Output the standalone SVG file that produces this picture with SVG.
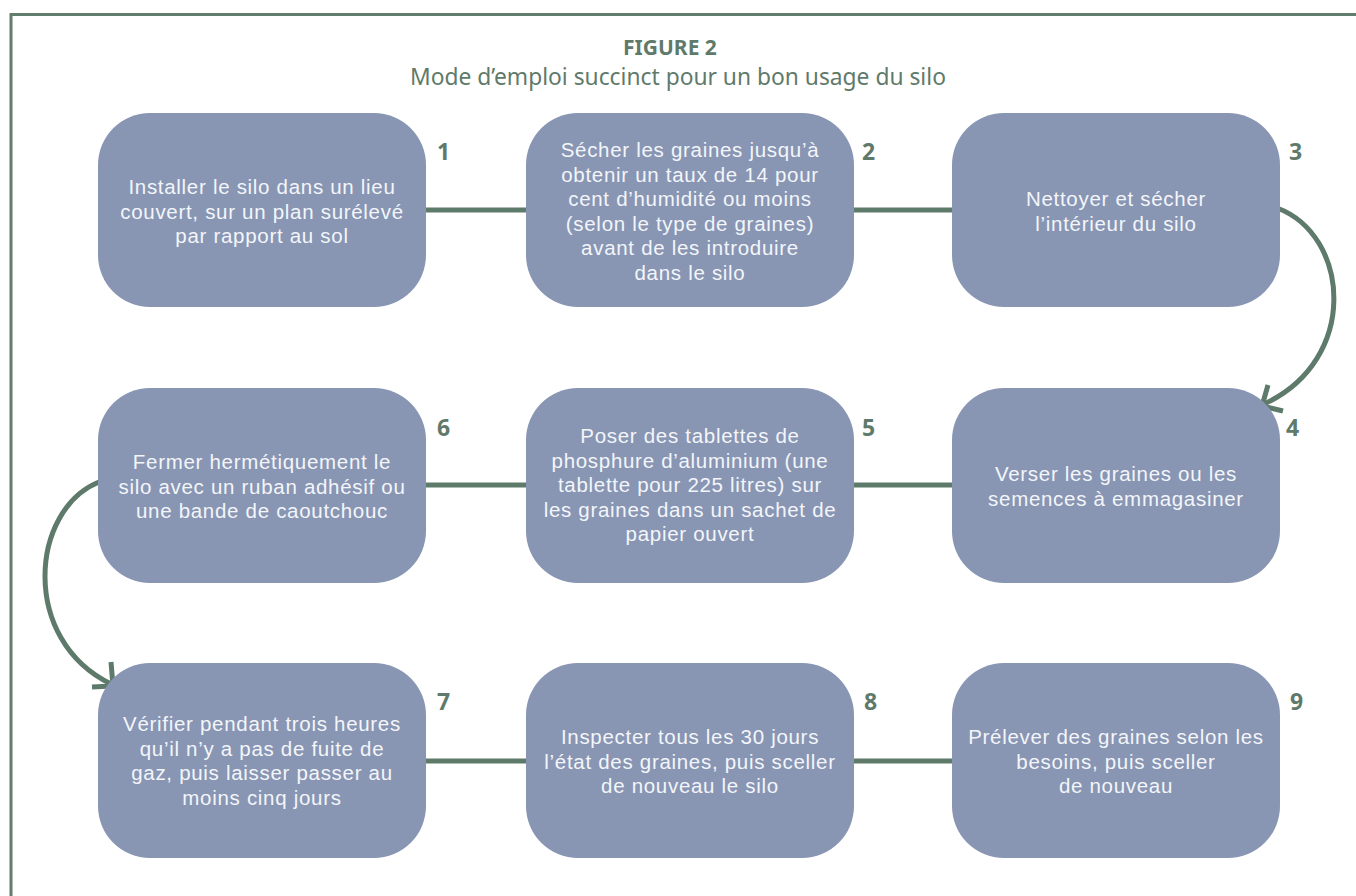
<svg xmlns="http://www.w3.org/2000/svg" width="1356" height="896" viewBox="0 0 1356 896">
<style>
.frame{fill:none;stroke:#627d6d;stroke-width:3}
.box{fill:#8896b4}
.t{font-family:"Liberation Sans",Arial,sans-serif;font-size:20.5px;letter-spacing:0.7px;fill:#f3f5f9;text-anchor:middle}
.n{font-family:"Noto Sans","Open Sans",sans-serif;font-size:23px;font-weight:bold;fill:#5f7a6a}
.title{font-family:"Noto Sans","Open Sans",sans-serif;fill:#5f7a6a;text-anchor:middle}
.c{fill:none;stroke:#5e7a6b;stroke-width:5}
.a{fill:none;stroke:#5e7a6b;stroke-width:5;stroke-linecap:butt;stroke-linejoin:miter}
</style>
<rect width="1356" height="896" fill="#ffffff"/>
<path class="frame" d="M11,896 V14.5 H1356"/>
<g id="title">
<text class="title" x="670" y="55" font-size="21px" font-weight="bold">FIGURE 2</text>
<text class="title" x="678" y="85" font-size="22.8px">Mode d’emploi succinct pour un bon usage du silo</text>
</g>
<g id="connectors">
<line class="c" x1="424" y1="210" x2="528" y2="210"/>
<line class="c" x1="852" y1="210" x2="954" y2="210"/>
<line class="c" x1="424" y1="485" x2="528" y2="485"/>
<line class="c" x1="852" y1="485" x2="954" y2="485"/>
<line class="c" x1="424" y1="761" x2="528" y2="761"/>
<line class="c" x1="852" y1="761" x2="954" y2="761"/>
<path class="c" d="M1277,208 C1350,235 1360,360 1264,404"/>
<polyline class="a" points="1268,385 1262,406 1283,411"/>
<path class="c" d="M99,482 C30,510 20,640 111,684"/>
<polyline class="a" points="111,662 113,686 92,687"/>
</g>
<g id="step1">
<rect class="box" x="98" y="113" width="328" height="194" rx="52"/>
<text class="t" x="262" y="194">Installer le silo dans un lieu</text>
<text class="t" x="262" y="218.5">couvert, sur un plan surélevé</text>
<text class="t" x="262" y="243">par rapport au sol</text>
<text class="n" x="437" y="160">1</text>
</g>
<g id="step2">
<rect class="box" x="526" y="113" width="328" height="194" rx="52"/>
<text class="t" x="690" y="157">Sécher les graines jusqu’à</text>
<text class="t" x="690" y="181.5">obtenir un taux de 14 pour</text>
<text class="t" x="690" y="206">cent d’humidité ou moins</text>
<text class="t" x="690" y="230.5">(selon le type de graines)</text>
<text class="t" x="690" y="255">avant de les introduire</text>
<text class="t" x="690" y="279.5">dans le silo</text>
<text class="n" x="862" y="160">2</text>
</g>
<g id="step3">
<rect class="box" x="952" y="113" width="328" height="194" rx="52"/>
<text class="t" x="1116" y="206">Nettoyer et sécher</text>
<text class="t" x="1116" y="230.5">l’intérieur du silo</text>
<text class="n" x="1289" y="160">3</text>
</g>
<g id="step4">
<rect class="box" x="952" y="388" width="328" height="195" rx="52"/>
<text class="t" x="1116" y="481">Verser les graines ou les</text>
<text class="t" x="1116" y="505.5">semences à emmagasiner</text>
<text class="n" x="1286" y="436">4</text>
</g>
<g id="step5">
<rect class="box" x="526" y="388" width="328" height="195" rx="52"/>
<text class="t" x="690" y="443">Poser des tablettes de</text>
<text class="t" x="690" y="467.5">phosphure d’aluminium (une</text>
<text class="t" x="690" y="492">tablette pour 225 litres) sur</text>
<text class="t" x="690" y="516.5">les graines dans un sachet de</text>
<text class="t" x="690" y="541">papier ouvert</text>
<text class="n" x="862" y="436">5</text>
</g>
<g id="step6">
<rect class="box" x="98" y="388" width="328" height="195" rx="52"/>
<text class="t" x="262" y="469">Fermer hermétiquement le</text>
<text class="t" x="262" y="493.5">silo avec un ruban adhésif ou</text>
<text class="t" x="262" y="518">une bande de caoutchouc</text>
<text class="n" x="437" y="436">6</text>
</g>
<g id="step7">
<rect class="box" x="98" y="663" width="328" height="195" rx="52"/>
<text class="t" x="262" y="731">Vérifier pendant trois heures</text>
<text class="t" x="262" y="755.5">qu’il n’y a pas de fuite de</text>
<text class="t" x="262" y="780">gaz, puis laisser passer au</text>
<text class="t" x="262" y="804.5">moins cinq jours</text>
<text class="n" x="437" y="710">7</text>
</g>
<g id="step8">
<rect class="box" x="526" y="663" width="328" height="195" rx="52"/>
<text class="t" x="690" y="744">Inspecter tous les 30 jours</text>
<text class="t" x="690" y="768.5">l’état des graines, puis sceller</text>
<text class="t" x="690" y="793">de nouveau le silo</text>
<text class="n" x="864" y="710">8</text>
</g>
<g id="step9">
<rect class="box" x="952" y="663" width="328" height="195" rx="52"/>
<text class="t" x="1116" y="744">Prélever des graines selon les</text>
<text class="t" x="1116" y="768.5">besoins, puis sceller</text>
<text class="t" x="1116" y="793">de nouveau</text>
<text class="n" x="1290" y="710">9</text>
</g>
</svg>
